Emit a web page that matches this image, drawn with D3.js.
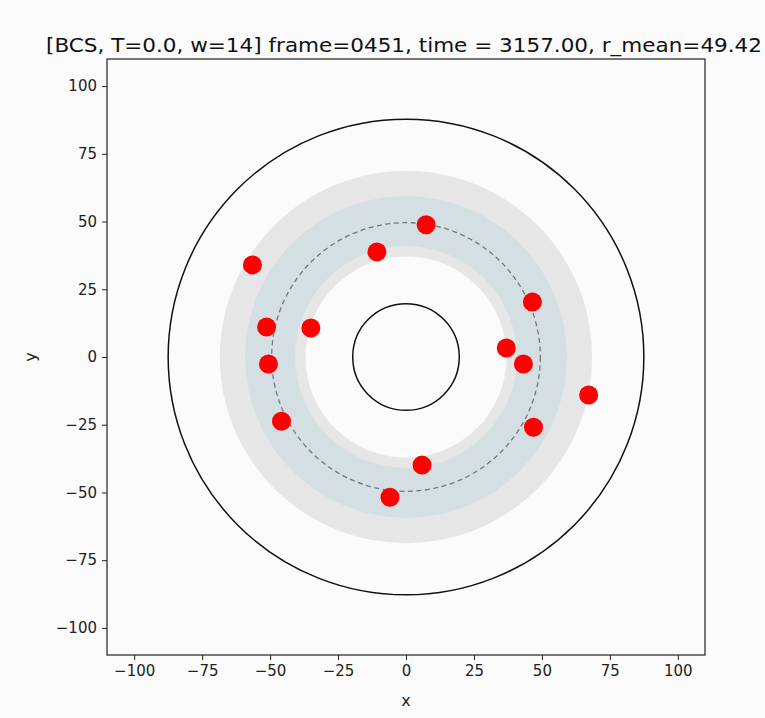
<!DOCTYPE html>
<html>
<head>
<meta charset="utf-8">
<script src="https://cdn.jsdelivr.net/npm/d3@7"></script>
<style>
  body { margin: 0; background: #fbfbfb; }
  svg { display: block; font-family: "DejaVu Sans", sans-serif; }
</style>
</head>
<body>
<script>
const width = 765;
const height = 718;

// particle positions
const xs = [7.4, -10.7, -56.5, 46.5, -51.3, -35.0, 36.9, 43.2, -50.6, 67.2, -45.8, 46.9, 5.9, -5.9];
const ys = [48.8, 38.8, 34.0, 20.3, 11.1, 10.7, 3.3, -2.6, -2.6, -14.0, -23.7, -25.9, -39.9, -51.8];

const ticks = [-100, -75, -50, -25, 0, 25, 50, 75, 100];
const domain = [-110, 110];

// rings: [inner, outer]
const grayBand = [37, 68.5];
const blueBand = [40.8, 59.2];
const wallRadii = [19.6, 87.5];
const rMean = 49.42;

const title = "[BCS, T=0.0, w=14] frame=0451, time = 3157.00, r_mean=49.42";

const margin = {left: 107, right: 60, top: 59, bottom: 63};

const svg = d3.select("body").append("svg")
    .attr("width", width)
    .attr("height", height);

const x = d3.scaleLinear().domain(domain).range([margin.left, width - margin.right]);
const y = d3.scaleLinear().domain(domain).range([height - margin.bottom, margin.top]);
const k = (x(1) - x(0));

const g = svg.append("g");
const cx = x(0), cy = y(0);

const arc = d3.arc().startAngle(0).endAngle(2 * Math.PI);

g.append("path")
    .attr("transform", `translate(${cx},${cy})`)
    .attr("d", arc.innerRadius(grayBand[0] * k).outerRadius(grayBand[1] * k)())
    .attr("fill", "#e6e6e6");

g.append("path")
    .attr("transform", `translate(${cx},${cy})`)
    .attr("d", arc.innerRadius(blueBand[0] * k).outerRadius(blueBand[1] * k)())
    .attr("fill", "#d4dfe3");

g.append("circle")
    .attr("cx", cx).attr("cy", cy).attr("r", rMean * k)
    .attr("fill", "none")
    .attr("stroke", "#6f7880")
    .attr("stroke-width", 1.3)
    .attr("stroke-dasharray", "5,3.5");

g.selectAll("circle.wall")
  .data(wallRadii)
  .join("circle")
    .attr("class", "wall")
    .attr("cx", cx).attr("cy", cy)
    .attr("r", d => d * k)
    .attr("fill", "none")
    .attr("stroke", "#111")
    .attr("stroke-width", 1.5);

g.selectAll("circle.pt")
  .data(xs.map((v, i) => [v, ys[i]]))
  .join("circle")
    .attr("class", "pt")
    .attr("cx", d => x(d[0]))
    .attr("cy", d => y(d[1]))
    .attr("r", 9.5)
    .attr("fill", "#ff0000");

// frame
svg.append("rect")
    .attr("x", margin.left).attr("y", margin.top)
    .attr("width", width - margin.left - margin.right)
    .attr("height", height - margin.top - margin.bottom)
    .attr("fill", "none")
    .attr("stroke", "#222")
    .attr("stroke-width", 1.2);

const fmt = d => d < 0 ? "\u2212" + Math.abs(d) : String(d);

const xAxis = svg.append("g")
    .attr("transform", `translate(0,${height - margin.bottom})`)
    .call(d3.axisBottom(x).tickValues(ticks).tickFormat(fmt).tickSize(5).tickPadding(5));
const yAxis = svg.append("g")
    .attr("transform", `translate(${margin.left},0)`)
    .call(d3.axisLeft(y).tickValues(ticks).tickFormat(fmt).tickSize(5).tickPadding(5));

[xAxis, yAxis].forEach(a => {
  a.select(".domain").remove();
  a.selectAll("text").attr("font-size", 15).attr("font-family", "DejaVu Sans, sans-serif").attr("fill", "#222");
  a.selectAll("line").attr("stroke", "#222");
});

svg.append("text")
    .attr("x", x(0)).attr("y", 706)
    .attr("text-anchor", "middle")
    .attr("font-size", 16)
    .attr("fill", "#222")
    .text("x");

svg.append("text")
    .attr("transform", `translate(36,${y(0)}) rotate(-90)`)
    .attr("text-anchor", "middle")
    .attr("font-size", 16)
    .attr("fill", "#222")
    .text("y");

svg.append("text")
    .attr("x", 404).attr("y", 52)
    .attr("text-anchor", "middle")
    .attr("font-size", 19)
    .attr("textLength", 716)
    .attr("lengthAdjust", "spacingAndGlyphs")
    .attr("fill", "#111")
    .text(title);
</script>
</body>
</html>
